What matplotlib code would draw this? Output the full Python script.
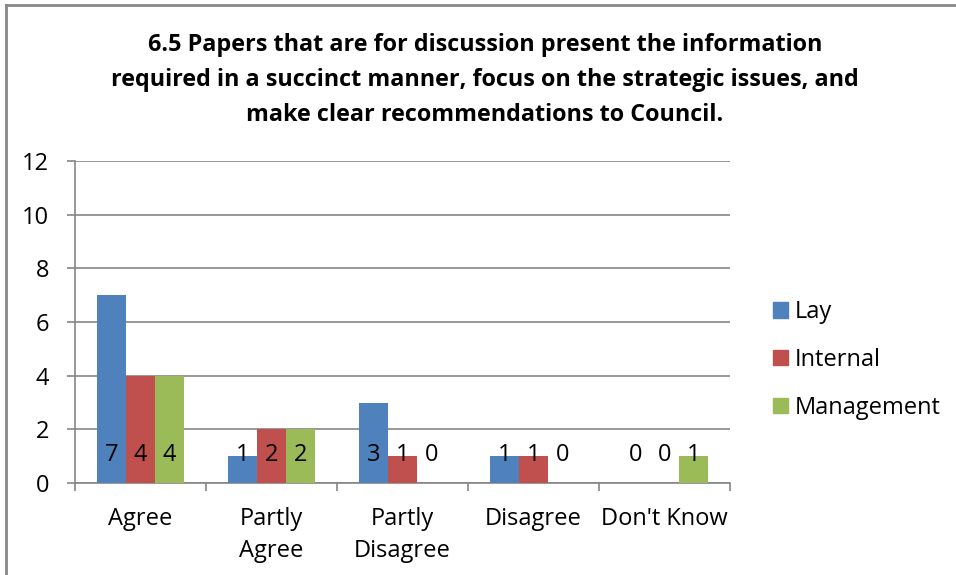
import matplotlib
matplotlib.use("Agg")
import matplotlib.pyplot as plt
import numpy as np
from matplotlib.patches import Rectangle

categories = ["Agree", "Partly\nAgree", "Partly\nDisagree", "Disagree", "Don't Know"]
series_names = ["Lay", "Internal", "Management"]
lay = [7, 1, 3, 1, 0]
internal = [4, 2, 1, 1, 0]
management = [4, 2, 0, 0, 1]
colors = ["#4F81BD", "#C0504D", "#9BBB59"]
title = ("6.5 Papers that are for discussion present the information\n"
         "required in a succinct manner, focus on the strategic issues, and\n"
         "make clear recommendations to Council.")
yticks = [0, 2, 4, 6, 8, 10, 12]

plt.rcParams['font.family'] = ['Open Sans', 'DejaVu Sans']
FS = 17

W, H = 956, 575
fig = plt.figure(figsize=(W / 100, H / 100), dpi=100)
ax = fig.add_axes([75 / W, 1 - 483 / H, (730 - 75) / W, (483 - 161) / H])

x = np.arange(len(categories))
bw = 0.222
series = [lay, internal, management]
for i, (vals, name, c) in enumerate(zip(series, series_names, colors)):
    pos = x + (i - 1) * bw
    ax.bar(pos, vals, width=bw, color=c, label=name, zorder=3)
    for px, v in zip(pos, vals):
        ax.annotate(str(v), (px, 0), xytext=(0, 20), textcoords='offset points',
                    ha='center', va='center', fontsize=FS, color='black', zorder=4)

ax.set_xlim(-0.5, len(categories) - 0.5)
ax.set_ylim(0, 12)
ax.set_yticks(yticks)
ax.set_yticklabels([str(t) for t in yticks], fontsize=FS)
ax.yaxis.grid(True, color='#868686', linewidth=1.2, zorder=0)
ax.set_xticks(x)
ax.set_xticklabels(categories, fontsize=FS, linespacing=1.45, va='top')
ax.set_xticks(np.arange(-0.5, len(categories), 1), minor=True)
ax.tick_params(axis='x', which='major', length=0, pad=17.5)
ax.tick_params(axis='x', which='minor', length=5.5, width=1.2, color='#868686', direction='out')
ax.tick_params(axis='y', length=5.5, width=1.2, color='#868686', pad=13)
for s in ['top', 'right']:
    ax.spines[s].set_visible(False)
for s in ['left', 'bottom']:
    ax.spines[s].set_color('#868686')
    ax.spines[s].set_linewidth(1.2)

fig.text(485 / W, 1 - 80 / H, title, ha='center', va='center', fontsize=16.8,
         fontweight='bold', linespacing=1.6)

handles = [Rectangle((0, 0), 1, 1, color=c) for c in colors]
fig.legend(handles, series_names, loc='center left', bbox_to_anchor=(764 / W, 1 - 360 / H),
           frameon=False, fontsize=FS, handlelength=0.62, handleheight=0.62,
           handletextpad=0.3, labelspacing=1.0, borderaxespad=0)

# chart border (top and left)
fig.add_artist(plt.Line2D([6 / W, 1], [1 - 5 / H, 1 - 5 / H], transform=fig.transFigure,
                          color='#888888', linewidth=2))
fig.add_artist(plt.Line2D([6 / W, 6 / W], [0, 1 - 5 / H], transform=fig.transFigure,
                          color='#888888', linewidth=2))

fig.savefig("out.png", dpi=100)
